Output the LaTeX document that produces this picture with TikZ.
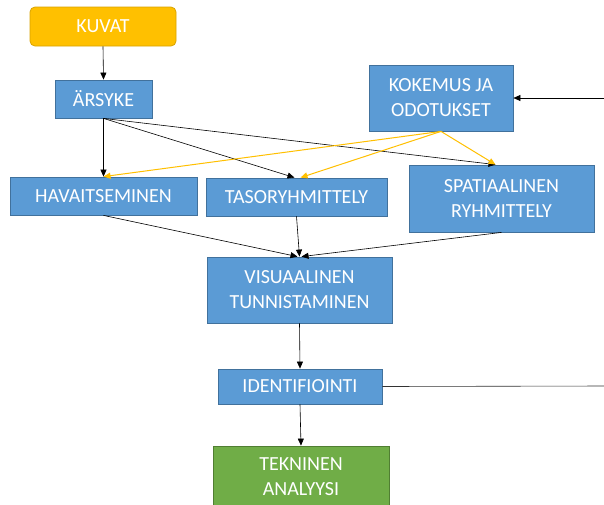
\documentclass[tikz,border=0pt]{standalone}
\usepackage{fontspec}
\setmainfont{Carlito}
\usetikzlibrary{arrows.meta}
\definecolor{boxblue}{HTML}{5B9BD5}
\definecolor{boxblueedge}{HTML}{41719C}
\definecolor{boxgreen}{HTML}{70AD47}
\definecolor{boxgreenedge}{HTML}{507E32}
\definecolor{boxyellow}{HTML}{FFC000}
\definecolor{boxyellowedge}{HTML}{D9A300}
\definecolor{arrorange}{HTML}{FFC000}
\tikzset{
  x=1pt, y=-1pt,
  box/.style={draw=boxblueedge, fill=boxblue, line width=0.8pt, text=white,
    font=\fontsize{20}{25}\selectfont, align=center, inner sep=0pt},
  greenbox/.style={box, draw=boxgreenedge, fill=boxgreen},
  yellowbox/.style={box, draw=boxyellowedge, fill=boxyellow, rounded corners=5pt},
  arr/.style={draw=black, line width=0.6pt, -{Triangle[length=7pt,width=6pt]}},
  oarr/.style={draw=arrorange, line width=1pt, -{Triangle[length=7pt,width=6pt]}},
  plain/.style={draw=black!80, line width=0.6pt},
}
\begin{document}
\begin{tikzpicture}
\clip (0,0) rectangle (604,504);
\fill[white] (0,0) rectangle (604,504);
\node[yellowbox, minimum width=146pt, minimum height=39pt] (kuvat) at (103,26.5) {KUVAT};
\node[box, minimum width=97pt, minimum height=38pt] (arsyke) at (103.5,99) {ÄRSYKE};
\node[box, minimum width=144pt, minimum height=66pt] (kok) at (441,98) {KOKEMUS JA\\ODOTUKSET};
\node[box, minimum width=187pt, minimum height=38pt] (hav) at (103.5,196) {HAVAITSEMINEN};
\node[box, minimum width=181pt, minimum height=38pt] (taso) at (296.5,197) {TASORYHMITTELY};
\node[box, minimum width=185pt, minimum height=67pt] (spat) at (501.5,198.5) {SPATIAALINEN\\RYHMITTELY};
\node[box, minimum width=185pt, minimum height=66pt] (vis) at (299.5,290) {VISUAALINEN\\TUNNISTAMINEN};
\node[box, minimum width=164pt, minimum height=35pt] (iden) at (300,386.5) {IDENTIFIOINTI};
\node[greenbox, minimum width=176pt, minimum height=62pt] (tek) at (301,477) {TEKNINEN\\ANALYYSI};
\coordinate (rin) at (605,98);
\coordinate (rout) at (605,386);
% black arrows
\draw[arr] (kuvat.south) -- (arsyke.north);
\draw[arr] (arsyke.south) -- (hav.north);
\draw[arr] (arsyke.south) -- ([xshift=-2pt]taso.north);
\draw[arr] (arsyke.south) -- ([xshift=-6pt]spat.north);
% orange arrows
\draw[oarr] (kok.south) -- (hav.north);
\draw[oarr] (kok.south) -- ([xshift=4pt]taso.north);
\draw[oarr] (kok.south) -- ([xshift=-6pt]spat.north);
% into visual recognition
\draw[arr] (hav.south) -- ([xshift=-2pt]vis.north);
\draw[arr] (taso.south) -- (vis.north);
\draw[arr] (spat.south) -- ([xshift=2pt]vis.north);
\draw[arr] (vis.south) -- (iden.north);
\draw[arr] (iden.south) -- (tek.north);
\draw[arr] (rin) -- (kok.east);
\draw[plain] (iden.east) -- (rout);
\end{tikzpicture}
\end{document}
